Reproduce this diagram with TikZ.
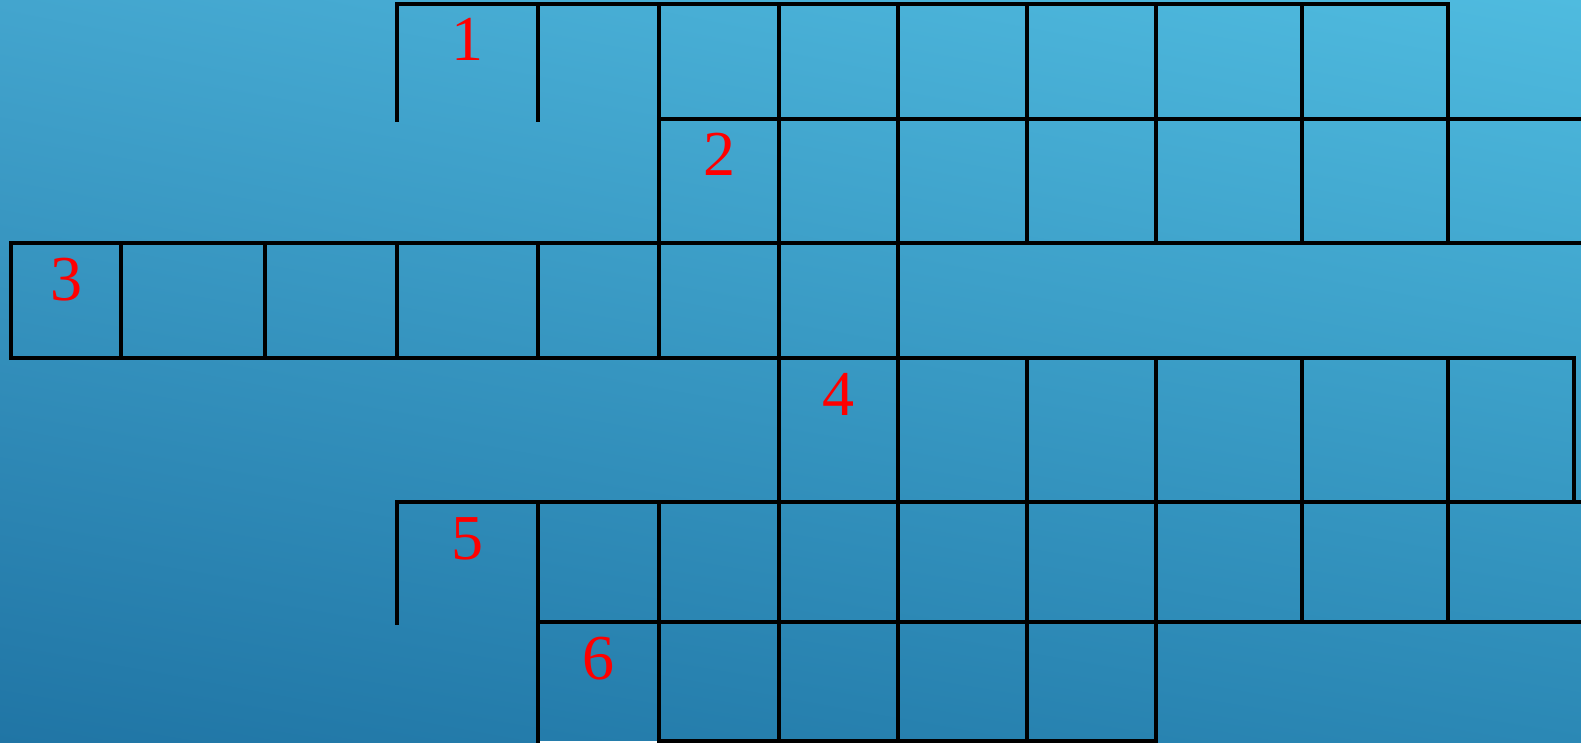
\documentclass[tikz,border=0pt]{standalone}
\usepackage{fontspec}
\setmainfont{Liberation Serif}
\usepackage{tikz}
\usetikzlibrary{shadings}

\definecolor{bgtl}{RGB}{67,165,206}
\definecolor{bgtr}{RGB}{79,187,223}
\definecolor{bgbl}{RGB}{32,117,165}
\definecolor{bgbr}{RGB}{43,136,181}
\definecolor{cluered}{RGB}{255,0,0}

\tikzset{
  gridline/.style={draw=black, line width=3.2pt, line cap=rect},
  cluenum/.style={text=cluered, anchor=base, inner sep=0pt,
                  font=\fontsize{64}{64}\selectfont}
}

\begin{document}
\begin{tikzpicture}[x=1pt, y=-1pt]
  % background
  \shade[upper left=bgtl, upper right=bgtr, lower left=bgbl, lower right=bgbr]
    (0,0) rectangle (1581,743);
  \useasboundingbox (0,0) rectangle (1581,743);

  % horizontal lines
  \draw[gridline] (397,4) -- (1448,4);
  \draw[gridline] (659,119) -- (1585,119);
  \draw[gridline] (11,243) -- (1585,243);
  \draw[gridline] (11,358) -- (1574,358);
  \draw[gridline] (397,502) -- (1585,502);
  \draw[gridline] (538,622) -- (1585,622);
  \draw[gridline] (659,741) -- (1156,741);
  \draw[white, line width=1.5pt] (540,742) -- (657,742);

  % vertical lines
  \foreach \x in {397, 538} \draw[gridline] (\x,4) -- (\x,120);
  \foreach \x in {11, 121, 265, 397, 538} \draw[gridline] (\x,243) -- (\x,358);
  \draw[gridline] (659,4) -- (659,358);
  \foreach \x in {779, 898} \draw[gridline] (\x,4) -- (\x,741);
  \foreach \x in {1027, 1156, 1302, 1448} \draw[gridline] (\x,4) -- (\x,243);
  \foreach \x in {1027, 1156} \draw[gridline] (\x,358) -- (\x,741);
  \foreach \x in {1302, 1448} \draw[gridline] (\x,358) -- (\x,622);
  \draw[gridline] (1574,358) -- (1574,502);
  \draw[gridline] (397,502) -- (397,623);
  \draw[gridline] (538,502) -- (538,745);
  \draw[gridline] (659,502) -- (659,741);

  % clue numbers
  \node[cluenum] (n1) at (467,61) {1};
  \node[cluenum] (n2) at (719,176) {2};
  \node[cluenum] (n3) at (66,300) {3};
  \node[cluenum] (n4) at (838,415) {4};
  \node[cluenum] (n5) at (467,559) {5};
  \node[cluenum] (n6) at (598,679) {6};
\end{tikzpicture}
\end{document}
